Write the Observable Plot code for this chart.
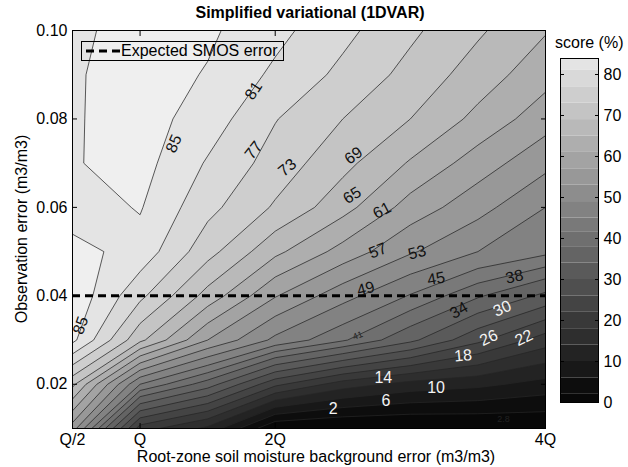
<!DOCTYPE html>
<html><head><meta charset="utf-8">
<script src="https://cdn.jsdelivr.net/npm/d3@7"></script>
<script src="https://cdn.jsdelivr.net/npm/@observablehq/plot@0.6"></script>
<style>
body{margin:0;background:#fff;}
#wrap{position:relative;width:628px;height:467px;font-family:"Liberation Sans",Arial,sans-serif;color:#000;overflow:hidden;}
#wrap svg{position:absolute;top:0;}
.t{position:absolute;white-space:nowrap;}
</style></head><body><div id="wrap"></div>
<script>
// ---- data ----
const xTicks = [0.5, 1, 2, 4];
const xTickLabels = ["Q/2", "Q", "2Q", "4Q"];
const yTicks = [0.02, 0.04, 0.06, 0.08, 0.10];
const colorbarTicks = [0, 10, 20, 30, 40, 50, 60, 70, 80];
const xGrid = [0.5, 1, 1.5, 2, 2.5, 3, 3.5, 4];
const yGrid = [0.10, 0.09, 0.08, 0.07, 0.06, 0.05, 0.04, 0.03, 0.02, 0.01];
// score (%) at each grid node, rows from y = 0.10 (top) to y = 0.01 (bottom)
const score = [
  [84.0, 86.8, 85.7, 82.2, 78.1, 73.8, 69.6, 65.3],
  [84.5, 87.0, 84.7, 80.2, 76.0, 71.7, 67.1, 62.5],
  [84.6, 86.8, 83.1, 77.2, 73.0, 69.0, 63.9, 58.7],
  [84.7, 86.5, 80.6, 75.3, 70.2, 64.6, 59.0, 54.2],
  [83.0, 85.3, 78.2, 72.5, 66.5, 59.3, 54.5, 49.0],
  [86.3, 83.5, 74.5, 66.0, 59.5, 53.5, 49.0, 46.0],
  [88.0, 78.0, 67.5, 57.3, 50.5, 44.7, 38.5, 33.0],
  [86.0, 70.0, 57.0, 48.0, 42.0, 35.0, 27.0, 20.0],
  [70.0, 45.0, 36.0, 23.0, 16.0, 12.5, 11.0, 8.5],
  [55.0, 20.0, 13.0, -2.0, -3.0, -3.0, -2.5, -2.0]
];
const levels = [2, 6, 10, 14, 18, 22, 26, 30, 34, 38, 41.5, 45, 49, 53, 57, 61, 65, 69, 73, 77, 81, 85];
const smosError = 0.04;
const contourLabels = [
  {t: "85", x: 1.25, y: 0.0744, r: -66, light: false},
  {t: "81", x: 1.84, y: 0.0864, r: -57, light: false},
  {t: "77", x: 1.84, y: 0.0729, r: -52, light: false},
  {t: "73", x: 2.09, y: 0.0690, r: -40, light: false},
  {t: "69", x: 2.58, y: 0.0717, r: -35, light: false},
  {t: "65", x: 2.57, y: 0.0627, r: -33, light: false},
  {t: "61", x: 2.79, y: 0.0593, r: -28, light: false},
  {t: "57", x: 2.76, y: 0.0502, r: -22, light: false},
  {t: "53", x: 3.05, y: 0.0498, r: -15, light: false},
  {t: "49", x: 2.67, y: 0.0416, r: -15, light: false},
  {t: "45", x: 3.19, y: 0.0439, r: -10, light: false},
  {t: "38", x: 3.77, y: 0.0443, r: -12, light: false},
  {t: "34", x: 3.36, y: 0.0367, r: -30, light: false},
  {t: "85", x: 0.56, y: 0.0333, r: -70, light: false},
  {t: "30", x: 3.68, y: 0.0371, r: -25, light: true},
  {t: "26", x: 3.58, y: 0.0305, r: -25, light: true},
  {t: "22", x: 3.84, y: 0.0305, r: -25, light: true},
  {t: "18", x: 3.39, y: 0.0265, r: -5, light: true},
  {t: "14", x: 2.80, y: 0.0215, r: 0, light: true},
  {t: "10", x: 3.19, y: 0.0192, r: 0, light: true},
  {t: "6", x: 2.82, y: 0.0163, r: 0, light: true},
  {t: "2", x: 2.43, y: 0.0145, r: 0, light: true}
];
const smallLabels = [
  {t: "41", x: 2.61, y: 0.0310, r: -20},
  {t: "2.8", x: 3.69, y: 0.0122, r: 0}
];

// ---- build ----
const FONT = '"Liberation Sans", Arial, sans-serif';
const values = score.flat();
const dxg = xGrid[1] - xGrid[0], dyg = yGrid[0] - yGrid[1];
const grid = {
  width: xGrid.length, height: yGrid.length,
  x1: xGrid[0] - dxg / 2, x2: xGrid[xGrid.length - 1] + dxg / 2,
  y1: yGrid[0] + dyg / 2, y2: yGrid[yGrid.length - 1] - dyg / 2
};
const color = {type: "linear", domain: [0, 85], range: ["#080808", "#efefef"], clamp: true};

const main = Plot.plot({
  width: 628, height: 467,
  marginLeft: 72, marginRight: 83, marginTop: 30, marginBottom: 39,
  x: {domain: [0.5, 4]},
  y: {domain: [0.01, 0.10]},
  color,
  style: {fontFamily: FONT, fontSize: "16px", background: "transparent", color: "black"},
  marks: [
    Plot.contour(values, {...grid, fill: Plot.identity, thresholds: [-20, ...levels], clip: true}),
    Plot.contour(values, {...grid, value: Plot.identity, thresholds: levels, stroke: "#262626", strokeWidth: 0.75, fill: "none", clip: true}),
    Plot.ruleY([smosError], {stroke: "black", strokeWidth: 3, strokeDasharray: "8,5"}),
    Plot.text(contourLabels.filter(d => !d.light), {x: "x", y: "y", text: "t", rotate: "r", fill: "#111", fontSize: 16}),
    Plot.text(contourLabels.filter(d => d.light), {x: "x", y: "y", text: "t", rotate: "r", fill: "#f4f4f4", fontSize: 16}),
    Plot.text(smallLabels, {x: "x", y: "y", text: "t", rotate: "r", fill: "#222", fontSize: 9}),
    Plot.frame({stroke: "black"}),
    Plot.axisX({ticks: xTicks, tickFormat: d => xTickLabels[xTicks.indexOf(d)], tickSize: -5, tickPadding: 10, label: null, fontSize: 16}),
    Plot.axisX({anchor: "top", ticks: xTicks, tickFormat: () => "", tickSize: -5, label: null}),
    Plot.axisY({ticks: yTicks, tickFormat: d3.format(".2f"), tickSize: -5, tickPadding: 10, label: null, fontSize: 16}),
    Plot.axisY({anchor: "right", ticks: yTicks, tickFormat: () => "", tickSize: -5, label: null})
  ]
});

const bands = [0, ...levels].map((lo, i, a) => ({lo, hi: i < a.length - 1 ? a[i + 1] : 90}));
const cb = Plot.plot({
  width: 83, height: 467,
  marginLeft: 15, marginRight: 30, marginTop: 58, marginBottom: 65,
  x: {domain: [0, 1], axis: null},
  y: {domain: [0, 83.9]},
  color,
  style: {fontFamily: FONT, fontSize: "16px", background: "transparent", color: "black"},
  marks: [
    Plot.rect(bands, {x1: 0, x2: 1, y1: "lo", y2: "hi", fill: "lo", clip: true}),
    Plot.frame({stroke: "black"}),
    Plot.axisY({anchor: "right", ticks: colorbarTicks, tickSize: -4, tickPadding: 9, label: null, fontSize: 16}),
    Plot.axisY({anchor: "left", ticks: colorbarTicks, tickSize: -4, tickFormat: () => "", label: null})
  ]
});

const wrap = document.getElementById("wrap");
wrap.appendChild(main);
cb.style.left = "545px";
wrap.appendChild(cb);

function addText(txt, css) {
  const d = document.createElement("div");
  d.className = "t";
  d.textContent = txt;
  Object.assign(d.style, css);
  wrap.appendChild(d);
  return d;
}
addText("Simplified variational (1DVAR)", {left: "310px", top: "4px", transform: "translateX(-50%)", fontWeight: "bold", fontSize: "16px"});
addText("Root-zone soil moisture background error (m3/m3)", {left: "316px", top: "448px", transform: "translateX(-50%)", fontSize: "16px", lineHeight: "18px"});
addText("Observation error (m3/m3)", {left: "22px", top: "229px", transform: "translate(-50%,-50%) rotate(-90deg)", fontSize: "16px"});
addText("score (%)", {left: "555px", top: "34px", fontSize: "16px"});

// legend
const leg = document.createElement("div");
Object.assign(leg.style, {position: "absolute", left: "81px", top: "41px", width: "201px", height: "18px", border: "1px solid #000", boxSizing: "content-box"});
leg.innerHTML = '<svg width="36" height="18" style="position:absolute;left:2px;top:0"><line x1="2" y1="9" x2="36" y2="9" stroke="#000" stroke-width="3" stroke-dasharray="8,5"/></svg>';
const lt = document.createElement("span");
lt.textContent = "Expected SMOS error";
Object.assign(lt.style, {position: "absolute", left: "39px", top: "0px", fontSize: "16px", lineHeight: "18px", whiteSpace: "nowrap"});
leg.appendChild(lt);
wrap.appendChild(leg);
</script>
</body></html>
